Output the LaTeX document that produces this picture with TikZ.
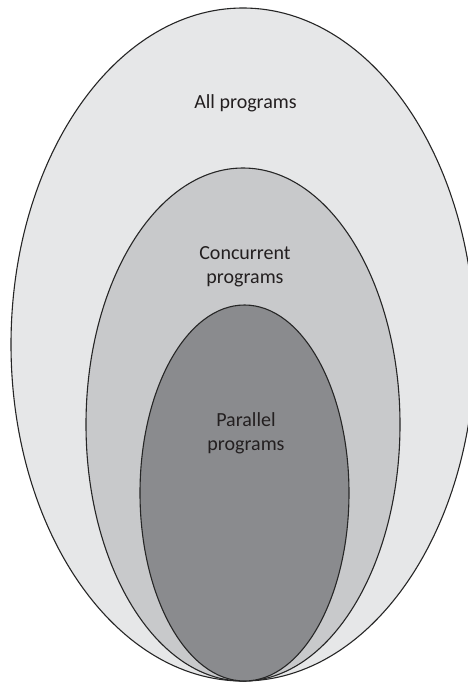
\documentclass[tikz,border=0pt]{standalone}
\usepackage{fontspec}
\setmainfont{Carlito}
\definecolor{outerc}{HTML}{E6E7E8}
\definecolor{midc}{HTML}{C8C9CB}
\definecolor{innerc}{HTML}{8A8B8E}
\definecolor{txtc}{HTML}{231F20}
\begin{document}
\begin{tikzpicture}[x=1pt,y=-1pt,
  blob/.style={draw=black!85,line width=1.1pt},
  lbl/.style={text=txtc,font=\fontsize{20}{24}\selectfont,align=center,inner sep=0pt}]
\useasboundingbox (0,0) rectangle (468,683);
\clip (0,0) rectangle (468,683);
\fill[white] (0,0) rectangle (468,683);
\draw[blob,fill=outerc] (243,344.5) ellipse [x radius=232, y radius=336.5];
\draw[blob,fill=midc] (243,424.5) ellipse [x radius=157, y radius=256.5];
\draw[blob,fill=innerc] (244.5,493) ellipse [x radius=104.5, y radius=188];
\node[lbl] (all) at (245.5,103) {All programs};
\node[lbl] (conc) at (245,267) {Concurrent\\programs};
\node[lbl] (par) at (246,433) {Parallel\\programs};
\end{tikzpicture}
\end{document}
